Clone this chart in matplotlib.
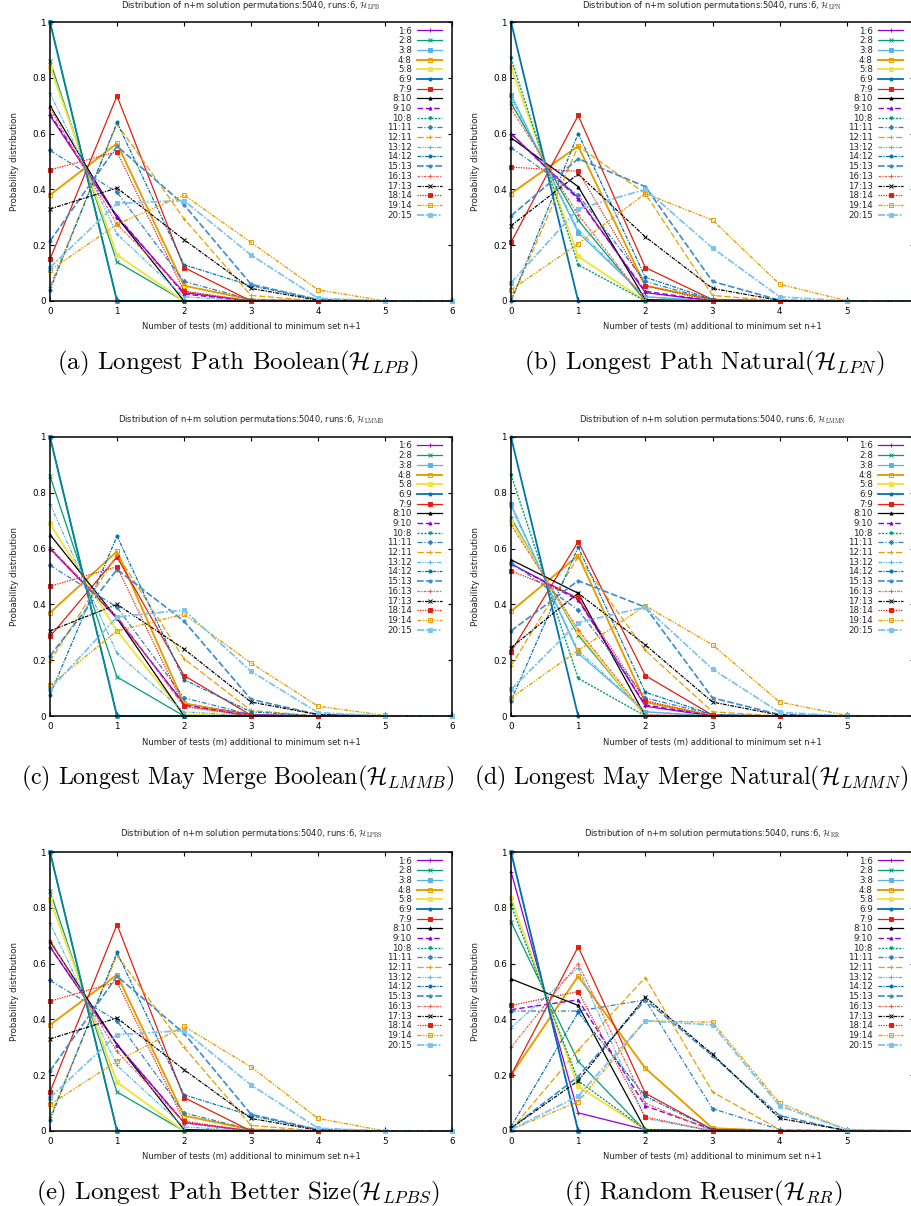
import matplotlib
matplotlib.use('Agg')
import matplotlib.pyplot as plt

W, H = 912, 1206

m = [0, 1, 2, 3, 4, 5, 6]
series = ['1:6', '2:8', '3:8', '4:8', '5:8', '6:9', '7:9', '8:10', '9:10', '10:8',
          '11:11', '12:11', '13:12', '14:12', '15:13', '16:13', '17:13', '18:14', '19:14', '20:15']
yticks = [0, 0.2, 0.4, 0.6, 0.8, 1]
ytick_labels = ['0', '0.2', '0.4', '0.6', '0.8', '1']
xticks = [0, 1, 2, 3, 4, 5, 6]

# (a) Longest Path Boolean
lpb = [
    [0.665, 0.30, 0.03, 0, 0, 0, 0],
    [0.86, 0.14, 0, 0, 0, 0, 0],
    [1.0, 0, 0, 0, 0, 0, 0],
    [0.38, 0.565, 0.055, 0.005, 0, 0, 0],
    [0.84, 0.165, 0, 0, 0, 0, 0],
    [1.0, 0, 0, 0, 0, 0, 0],
    [0.15, 0.735, 0.12, 0, 0, 0, 0],
    [0.70, 0.30, 0, 0, 0, 0, 0],
    [0.67, 0.305, 0.025, 0, 0, 0, 0],
    [1.0, 0, 0, 0, 0, 0, 0],
    [0.54, 0.39, 0.07, 0.005, 0, 0, 0],
    [0.05, 0.635, 0.295, 0.02, 0, 0, 0],
    [0.745, 0.24, 0.015, 0, 0, 0, 0],
    [0.04, 0.64, 0.13, 0.055, 0.005, 0, 0],
    [0.215, 0.555, 0.345, 0.06, 0.005, 0, 0],
    [0.69, 0.275, 0.035, 0, 0, 0, 0],
    [0.33, 0.405, 0.22, 0.045, 0.003, 0, 0],
    [0.47, 0.535, 0.035, 0, 0, 0, 0],
    [0.11, 0.275, 0.38, 0.21, 0.04, 0, 0],
    [0.12, 0.35, 0.36, 0.165, 0.01, 0, 0],
]

# (b) Longest Path Natural
lpn = [
    [0.60, 0.37, 0.03, 0, 0, 0, 0],
    [0.71, 0.29, 0, 0, 0, 0, 0],
    [0.74, 0.245, 0.015, 0, 0, 0, 0],
    [0.385, 0.555, 0.055, 0.005, 0, 0, 0],
    [0.84, 0.16, 0, 0, 0, 0, 0],
    [1.0, 0, 0, 0, 0, 0, 0],
    [0.21, 0.665, 0.12, 0.005, 0, 0, 0],
    [0.585, 0.41, 0.005, 0, 0, 0, 0],
    [0.60, 0.365, 0.035, 0, 0, 0, 0],
    [0.87, 0.13, 0, 0, 0, 0, 0],
    [0.55, 0.38, 0.07, 0.003, 0, 0, 0],
    [0.0, 0.555, 0.385, 0.02, 0, 0, 0],
    [0.73, 0.255, 0.015, 0, 0, 0, 0],
    [0.0, 0.60, 0.085, 0.005, 0, 0, 0],
    [0.305, 0.51, 0.41, 0.07, 0.003, 0, 0],
    [0.69, 0.31, 0.0, 0, 0, 0, 0],
    [0.27, 0.455, 0.23, 0.045, 0.002, 0, 0],
    [0.48, 0.465, 0.055, 0, 0, 0, 0],
    [0.04, 0.205, 0.385, 0.29, 0.06, 0.001, 0],
    [0.065, 0.33, 0.40, 0.19, 0.015, 0, 0],
]

# (c) Longest May Merge Boolean
lmmb = [
    [0.60, 0.35, 0.045, 0.005, 0, 0, 0],
    [0.86, 0.14, 0, 0, 0, 0, 0],
    [1.0, 0, 0, 0, 0, 0, 0],
    [0.37, 0.59, 0.045, 0, 0, 0, 0],
    [0.69, 0.305, 0.005, 0, 0, 0, 0],
    [1.0, 0, 0, 0, 0, 0, 0],
    [0.285, 0.57, 0.145, 0.003, 0, 0, 0],
    [0.65, 0.35, 0, 0, 0, 0, 0],
    [0.60, 0.355, 0.04, 0, 0, 0, 0],
    [1.0, 0, 0, 0, 0, 0, 0],
    [0.54, 0.39, 0.065, 0.005, 0, 0, 0],
    [0.195, 0.58, 0.205, 0.02, 0, 0, 0],
    [0.76, 0.225, 0.015, 0, 0, 0, 0],
    [0.075, 0.645, 0.13, 0.015, 0, 0, 0],
    [0.215, 0.525, 0.34, 0.06, 0.005, 0, 0],
    [0.605, 0.355, 0.035, 0, 0, 0, 0],
    [0.305, 0.40, 0.24, 0.05, 0.005, 0, 0],
    [0.465, 0.535, 0.035, 0, 0, 0, 0],
    [0.11, 0.305, 0.365, 0.19, 0.035, 0.002, 0],
    [0.095, 0.355, 0.38, 0.16, 0.012, 0, 0],
]

# (d) Longest May Merge Natural
lmmn = [
    [0.545, 0.42, 0.035, 0, 0, 0, 0],
    [0.71, 0.29, 0, 0, 0, 0, 0],
    [0.76, 0.225, 0.015, 0, 0, 0, 0],
    [0.375, 0.575, 0.05, 0, 0, 0, 0],
    [0.70, 0.30, 0, 0, 0, 0, 0],
    [1.0, 0, 0, 0, 0, 0, 0],
    [0.23, 0.625, 0.145, 0.003, 0, 0, 0],
    [0.56, 0.44, 0, 0, 0, 0, 0],
    [0.545, 0.415, 0.04, 0, 0, 0, 0],
    [0.865, 0.135, 0, 0, 0, 0, 0],
    [0.55, 0.38, 0.065, 0.005, 0, 0, 0],
    [0.18, 0.57, 0.235, 0.015, 0, 0, 0],
    [0.75, 0.235, 0.015, 0, 0, 0, 0],
    [0.055, 0.605, 0.085, 0.005, 0, 0, 0],
    [0.305, 0.485, 0.39, 0.065, 0.005, 0, 0],
    [0.685, 0.31, 0.005, 0, 0, 0, 0],
    [0.245, 0.44, 0.255, 0.05, 0.003, 0, 0],
    [0.52, 0.425, 0.055, 0, 0, 0, 0],
    [0.065, 0.235, 0.395, 0.255, 0.05, 0.002, 0],
    [0.095, 0.335, 0.39, 0.168, 0.013, 0, 0],
]

# (e) Longest Path Better Size
lpbs = [
    [0.66, 0.31, 0.03, 0, 0, 0, 0],
    [0.86, 0.14, 0, 0, 0, 0, 0],
    [1.0, 0, 0, 0, 0, 0, 0],
    [0.38, 0.56, 0.055, 0.005, 0, 0, 0],
    [0.83, 0.175, 0, 0, 0, 0, 0],
    [1.0, 0, 0, 0, 0, 0, 0],
    [0.14, 0.74, 0.12, 0, 0, 0, 0],
    [0.68, 0.31, 0.005, 0, 0, 0, 0],
    [0.66, 0.31, 0.03, 0, 0, 0, 0],
    [1.0, 0, 0, 0, 0, 0, 0],
    [0.54, 0.395, 0.065, 0.005, 0, 0, 0],
    [0.05, 0.63, 0.30, 0.02, 0, 0, 0],
    [0.745, 0.235, 0.015, 0, 0, 0, 0],
    [0.04, 0.64, 0.13, 0.055, 0.005, 0, 0],
    [0.215, 0.555, 0.35, 0.06, 0.005, 0, 0],
    [0.685, 0.285, 0.03, 0, 0, 0, 0],
    [0.33, 0.405, 0.22, 0.045, 0.003, 0, 0],
    [0.465, 0.535, 0.035, 0, 0, 0, 0],
    [0.095, 0.25, 0.375, 0.23, 0.045, 0, 0],
    [0.12, 0.345, 0.36, 0.165, 0.01, 0, 0],
]

# (f) Random Reuser
rr = [
    [0.93, 0.065, 0.005, 0, 0, 0, 0],
    [0.75, 0.25, 0, 0, 0, 0, 0],
    [1.0, 0, 0, 0, 0, 0, 0],
    [0.20, 0.555, 0.225, 0.01, 0, 0, 0],
    [0.835, 0.16, 0.005, 0, 0, 0, 0],
    [1.0, 0, 0, 0, 0, 0, 0],
    [0.20, 0.66, 0.135, 0.005, 0, 0, 0],
    [0.545, 0.45, 0.005, 0, 0, 0, 0],
    [0.435, 0.47, 0.09, 0.005, 0, 0, 0],
    [0.81, 0.18, 0.005, 0, 0, 0, 0],
    [0.43, 0.43, 0.47, 0.08, 0.005, 0, 0],
    [0.005, 0.29, 0.55, 0.14, 0.005, 0, 0],
    [0.37, 0.585, 0.045, 0, 0, 0, 0],
    [0.015, 0.425, 0.125, 0.005, 0, 0, 0],
    [0.01, 0.195, 0.47, 0.27, 0.055, 0, 0],
    [0.30, 0.60, 0.10, 0, 0, 0, 0],
    [0.01, 0.18, 0.48, 0.275, 0.045, 0.002, 0],
    [0.45, 0.50, 0.05, 0, 0, 0, 0],
    [0.005, 0.105, 0.395, 0.39, 0.10, 0.005, 0],
    [0.005, 0.125, 0.395, 0.38, 0.09, 0.005, 0],
]

panels = [lpb, lpn, lmmb, lmmn, lpbs, rr]
subs = ['LPB', 'LPN', 'LMMB', 'LMMN', 'LPBS', 'RR']
captions = [r'(a) Longest Path Boolean($\mathcal{H}_{LPB}$)',
            r'(b) Longest Path Natural($\mathcal{H}_{LPN}$)',
            r'(c) Longest May Merge Boolean($\mathcal{H}_{LMMB}$)',
            r'(d) Longest May Merge Natural($\mathcal{H}_{LMMN}$)',
            r'(e) Longest Path Better Size($\mathcal{H}_{LPBS}$)',
            r'(f) Random Reuser($\mathcal{H}_{RR}$)']

# gnuplot-ish styles for the 20 series
colors = ['#9400d3', '#009e73', '#56b4e9', '#e69f00', '#f0e442', '#0072b2', '#e51e10', 'black',
          '#9400d3', '#009e73', '#2f7fc1', '#e69f00', '#56b4e9', '#0072b2', '#3b8ccb', '#ef5a50',
          'black', '#e51e10', '#e69f00', '#7cc4ee']
dashes = ['-', '-', '-', '-', '-', '-', '-', '-',
          (0, (4, 2)), (0, (1.5, 1)), (0, (4, 1.5, 1, 1.5)), (0, (5, 2)),
          (0, (3, 1, 1, 1, 1, 1)), (0, (3, 1, 1, 1)), (0, (4, 1.5)), (0, (2, 1, 1, 1)),
          (0, (3, 1, 1, 1)), (0, (1, 1)), (0, (3, 1, 1, 1, 1, 1)), (0, (4, 1, 1, 1))]
widths = [0.9, 0.9, 0.9, 1.4, 1.4, 1.3, 0.9, 0.9, 1.0, 1.0, 0.9, 0.9, 0.9, 0.9, 1.2, 0.9, 0.9, 0.9, 1.0, 1.3]
markers = ['+', 'x', 's', 's', 's', 'o', 's', '^', '^', 'v', 'D', '+', '+', 'o', 'o', '+', 'x', 's', 's', 's']
hollow = [False, False, False, True, False, False, False, False, False, False,
          False, False, False, False, False, False, False, False, True, False]

fig = plt.figure(figsize=(W / 100, H / 100), dpi=100)

cols = [(50, 452), (511, 914)]
rows = [(22, 301), (437, 716), (852, 1131)]
cap_x = [238, 704]


def fx(px):
    return px / W


def fy(py):
    return 1 - py / H


for k, data in enumerate(panels):
    r, c = divmod(k, 2)
    x0, x1 = cols[c]
    y0, y1 = rows[r]
    ax = fig.add_axes([fx(x0), fy(y1), (x1 - x0) / W, (y1 - y0) / H])
    handles = []
    for i, vals in enumerate(data):
        ln, = ax.plot(m, vals, color=colors[i], linestyle=dashes[i], lw=widths[i],
                      marker=markers[i], markersize=2.2, markeredgewidth=0.7,
                      markerfacecolor='none' if hollow[i] else colors[i],
                      clip_on=False, label=series[i])
        handles.append(ln)
    ax.set_xlim(0, 6)
    ax.set_ylim(0, 1)
    ax.set_xticks(xticks)
    # the right column runs past the page edge, its last label is not shown
    if c == 0:
        ax.set_xticklabels([str(t) for t in xticks])
    else:
        ax.set_xticklabels([str(t) for t in xticks[:-1]] + [''])
    ax.set_yticks(yticks)
    ax.set_yticklabels(ytick_labels)
    ax.tick_params(direction='in', length=3, width=0.8, top=True, right=True,
                   labelsize=6.3, colors='black')
    ax.tick_params(axis='x', pad=4.5)
    ax.tick_params(axis='y', pad=3)
    for sp in ax.spines.values():
        sp.set_linewidth(1.1)
    leg = ax.legend(handles=handles, loc='upper right',
                    bbox_to_anchor=((x1 - 10 - x0) / (x1 - x0) if c == 0 else (903 - x0) / (x1 - x0),
                                    1 - 4.5 / (y1 - y0)),
                    frameon=False, markerfirst=False, fontsize=6.2, handlelength=2.9,
                    handletextpad=0.6, labelspacing=0.08, borderpad=0, borderaxespad=0)
    for t in leg.get_texts():
        t.set_color('#222222')

    xc = (x0 + x1) / 2
    fig.text(fx(xc), fy(max(y0 - 18, 6)), 'Distribution of n+m solution permutations:5040, runs:6, '
             + r'$\mathcal{H}_{\mathrm{' + subs[k] + '}}$',
             ha='center', va='center', fontsize=6, color='#222222', math_fontfamily='cm')
    fig.text(fx(xc), fy(y1 + 26), 'Number of tests (m) additional to minimum set n+1',
             ha='center', va='center', fontsize=6, color='#222222')
    fig.text(fx(x0 - 35), fy((y0 + y1) / 2), 'Probability distribution', rotation=90,
             ha='center', va='center', fontsize=6.3, color='#222222')
    if r == 1:
        # the long middle-row captions are squeezed to stay on the page
        fig.text(fx(cap_x[c] - 13 * c), fy(y1 + 62), captions[k], ha='center', va='center',
                 fontsize=17.2, family='cmr10', math_fontfamily='cm')
    else:
        fig.text(fx(cap_x[c]), fy(y1 + 62), captions[k], ha='center', va='center',
                 fontsize=18, family='cmr10', math_fontfamily='cm')

fig.savefig('out.png', dpi=100)
